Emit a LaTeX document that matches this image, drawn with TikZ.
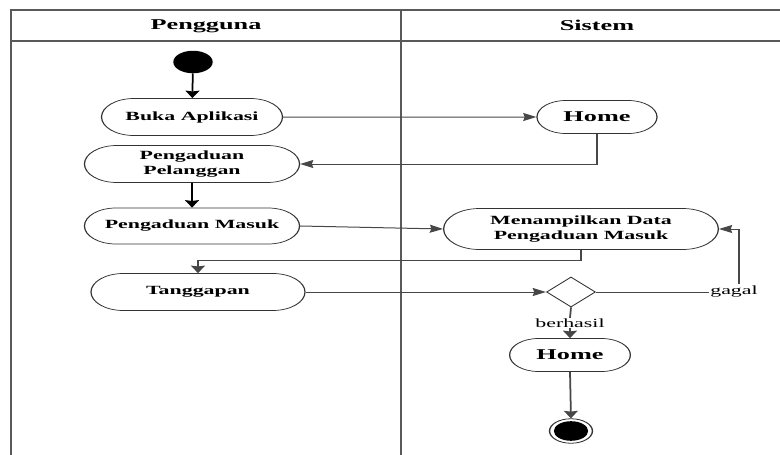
\documentclass[tikz,border=0pt]{standalone}
\usepackage{fontspec}
\setmainfont{Liberation Serif}
\usetikzlibrary{shapes.misc,shapes.geometric,arrows.meta}
\begin{document}
\begin{tikzpicture}[x=1pt,y=-1pt]
\useasboundingbox (0,0) rectangle (780,455);
% the whole diagram is drawn widened horizontally (canvas x-scale 1.75);
% x coordinates below are given in final units
\begin{scope}[transform canvas={xscale=1.75}, x=0.571429pt, y=-1pt,
  frame/.style={draw=black!65, line width=1.1pt},
  head/.style={font=\bfseries\fontsize{15}{18}\selectfont, inner sep=0pt},
  act/.style={rounded rectangle, draw=black!80, line width=0.7pt, fill=white,
    font=\bfseries\fontsize{12.5}{14.5}\selectfont, align=center, inner sep=0pt},
  bigact/.style={act, font=\bfseries\fontsize{15}{18}\selectfont},
  lbl/.style={font=\fontsize{12.5}{15}\selectfont, inner sep=0.6pt},
  flow/.style={draw=black!72, line width=1pt},
  blk/.style={draw=black, line width=1pt},
  tip/.style={-{Stealth[length=7.5pt,width=8pt,inset=0.8pt]}}]

% swimlane frame
\draw[frame] (11,455) -- (11,10) -- (780,10);
\draw[frame] (11,41) -- (780,41);
\draw[frame] (401,10) -- (401,455);
\node[head] (lane1) at (206,26) {Pengguna};
\node[head] (lane2) at (597,25) {Sistem};

% activities
\node[circle, fill=black, minimum size=22.5pt, inner sep=0pt] (start) at (193,62) {};
\node[act, minimum width=103.4pt, minimum height=37pt] (buka) at (192,117) {Buka Aplikasi};
\node[bigact, minimum width=68.6pt, minimum height=33pt] (home) at (597,117) {Home};
\node[act, minimum width=122.9pt, minimum height=37pt] (pel) at (192,164) {Pengaduan\\Pelanggan};
\node[act, minimum width=122.9pt, minimum height=36pt] (masuk) at (192,226) {Pengaduan Masuk};
\node[act, minimum width=157pt, minimum height=41pt] (tampil) at (581,229) {Menampilkan Data\\Pengaduan Masuk};
\node[act, minimum width=122.3pt, minimum height=37pt] (tang) at (198,292) {Tanggapan};
\node[diamond, draw=black!80, line width=0.7pt, minimum width=28pt, minimum height=30pt, inner sep=0pt] (dec) at (571,292) {};
\node[lbl] (gagal) at (734,292) {gagal};
\node[lbl] (berhasil) at (570,323) {berhasil};
\node[bigact, minimum width=69pt, minimum height=33pt] (home2) at (570,355) {Home};
\node[circle, draw=black!80, line width=0.8pt, minimum size=24.5pt, inner sep=0pt] (stop) at (571,431) {};
\fill[black] (stop.center) circle[radius=9.8pt];
\coordinate (gturn) at (739,284);

% flows
\draw[blk, tip] (start) -- (buka);
\draw[flow, tip] (buka) -- (home);
\draw[flow, tip] (home.south) |- (pel.east);
\draw[blk, tip] (pel) -- (masuk);
\draw[flow, tip] (masuk.east) -- (tampil.west);
\draw[flow, tip] (tampil.south) -- ++(0,11) -| (tang.north);
\draw[flow, tip] (tang.east) -- (dec.west);
\draw[flow] (dec.east) -- (gagal.west);
\draw[flow, tip] (gturn) |- (tampil.east);
\draw[flow] (dec.south) -- (berhasil.north);
\draw[flow, tip] (berhasil.south) -- (home2.north);
\draw[flow, tip] (home2.south) -- (stop.north);
\end{scope}
\end{tikzpicture}
\end{document}
